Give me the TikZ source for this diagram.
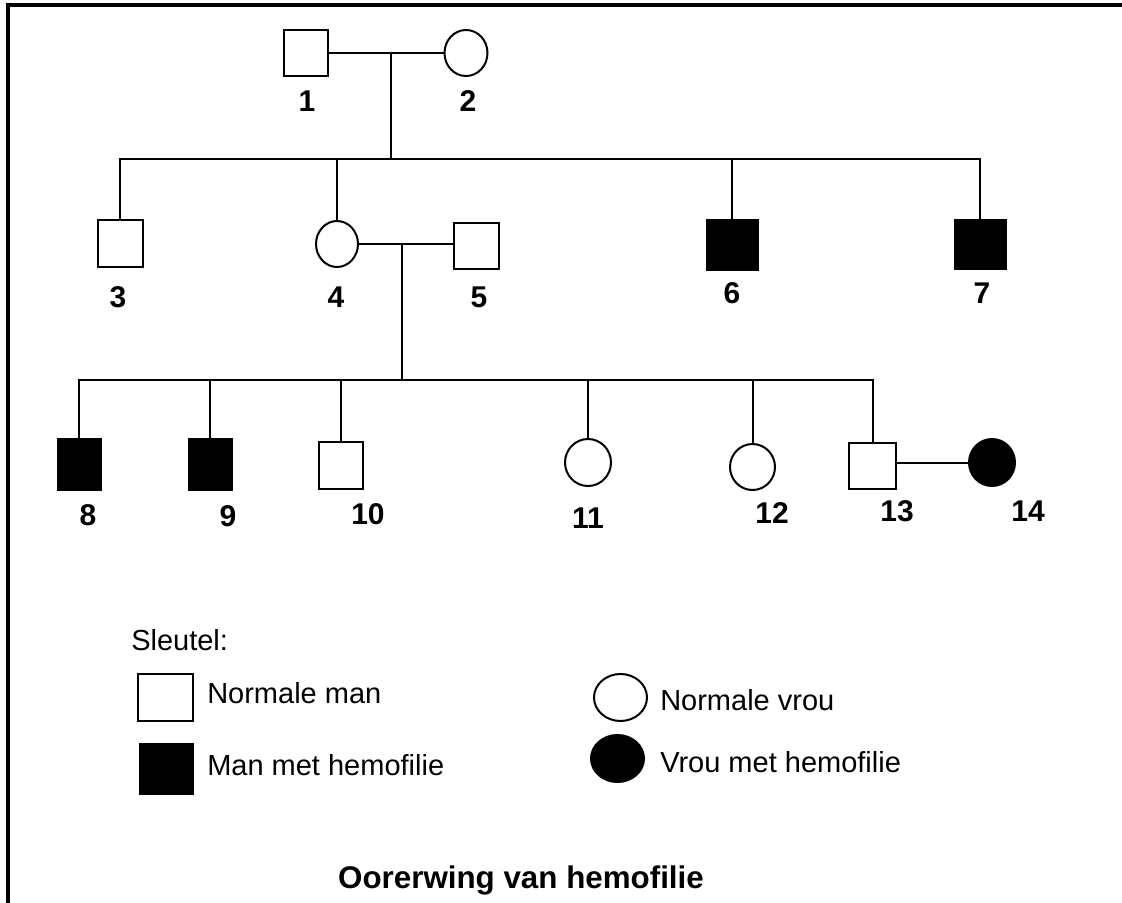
\documentclass[tikz,border=0pt]{standalone}
\usepackage{fontspec}
\setmainfont{Liberation Sans}
\usetikzlibrary{shapes.geometric}
\newdimen\pxu \pxu=0.75pt
\tikzset{
  person/.style={draw=black, line width=1.5pt, inner sep=0pt, fill=white},
  male/.style={person, rectangle, minimum width=#1},
  female/.style={person, ellipse, minimum width=#1},
  affected/.style={fill=black},
  conn/.style={line width=1.5pt, line cap=rect},
  num/.style={font=\fontsize{22.5pt}{26pt}\selectfont\bfseries, inner sep=0pt, anchor=base},
  legtext/.style={font=\fontsize{21.75pt}{25pt}\selectfont, inner sep=0pt, anchor=base west},
  frame/.style={line width=3pt}
}
\begin{document}
\begin{tikzpicture}[x=0.75pt,y=-0.75pt]
\useasboundingbox (0,0) rectangle (1122,903);
% frame
\draw[frame] (1122,5) -- (8,5) -- (8,903);

% generation I
\node[male=44\pxu, minimum height=46\pxu] (n1) at (306,53) {};
\node[female=43\pxu, minimum height=46\pxu] (n2) at (466,53) {};
\node[num] (l1) at (307,111) {1};
\node[num] (l2) at (468,111) {2};

% generation II
\node[male=45\pxu, minimum height=47\pxu] (n3) at (120,243.5) {};
\node[female=42\pxu, minimum height=46\pxu] (n4) at (337,244) {};
\node[male=45\pxu, minimum height=46\pxu] (n5) at (476.5,246) {};
\node[male=51\pxu, minimum height=50\pxu, affected] (n6) at (732,245) {};
\node[male=51\pxu, minimum height=49\pxu, affected] (n7) at (980,244.5) {};
\node[num] (l3) at (118,307) {3};
\node[num] (l4) at (336,307) {4};
\node[num] (l5) at (479,307) {5};
\node[num] (l6) at (732,303) {6};
\node[num] (l7) at (982,303) {7};

% generation III
\node[male=43\pxu, minimum height=51\pxu, affected] (n8) at (79,464.5) {};
\node[male=43\pxu, minimum height=51\pxu, affected] (n9) at (210,464.5) {};
\node[male=44\pxu, minimum height=47\pxu] (n10) at (341,465.5) {};
\node[female=46\pxu, minimum height=47\pxu] (n11) at (588,462.5) {};
\node[female=45\pxu, minimum height=46\pxu] (n12) at (752.5,467) {};
\node[male=47\pxu, minimum height=46\pxu] (n13) at (872.5,466) {};
\node[female=46\pxu, minimum height=47\pxu, affected] (n14) at (992,462.5) {};
\node[num] (l8) at (88,525) {8};
\node[num] (l9) at (228,526) {9};
\node[num] (l10) at (368,524) {10};
\node[num] (l11) at (588,528) {11};
\node[num] (l12) at (772,523) {12};
\node[num] (l13) at (897,521) {13};
\node[num] (l14) at (1028,521) {14};

% connectors
\coordinate (m12) at (391,53);
\coordinate (s1) at (391,159);
\coordinate (m45) at (402,244);
\coordinate (s2) at (402,380);
\draw[conn] (n1.east) -- (n2.west);
\draw[conn] (m12) -- (s1);
\draw[conn] (n3.north) -- (n3.north |- s1) -- (n7.north |- s1) -- (n7.north);
\draw[conn] (n4.north) -- (n4.north |- s1);
\draw[conn] (n6.north) -- (n6.north |- s1);

\draw[conn] (n4.east) -- (n5.west |- n4.east);
\draw[conn] (m45) -- (s2);
\draw[conn] (n8.north) -- (n8.north |- s2) -- (n13.north |- s2) -- (n13.north);
\draw[conn] (n9.north) -- (n9.north |- s2);
\draw[conn] (n10.north) -- (n10.north |- s2);
\draw[conn] (n11.north) -- (n11.north |- s2);
\draw[conn] (n12.north) -- (n12.north |- s2);
\draw[conn] (n13.east |- n14.west) -- (n14.west);

% legend
\node[legtext] (key) at (131,650) {Sleutel:};
\node[male=55\pxu, minimum height=47\pxu] (km) at (165.5,697.5) {};
\node[male=53\pxu, minimum height=50\pxu, affected] (kma) at (166.5,769) {};
\node[female=53\pxu, minimum height=47\pxu] (kf) at (620.5,697.5) {};
\node[female=53\pxu, minimum height=47\pxu, affected] (kfa) at (617.5,758.5) {};
\node[legtext] (tkm) at (207,703) {Normale man};
\node[legtext] (tkma) at (207,775) {Man met hemofilie};
\node[legtext] (tkf) at (660,710) {Normale vrou};
\node[legtext] (tkfa) at (660,772) {Vrou met hemofilie};

% title
\node[font=\fontsize{23.5pt}{28pt}\selectfont\bfseries, inner sep=0pt, anchor=base] (title) at (521,888) {Oorerwing van hemofilie};
\end{tikzpicture}
\end{document}
